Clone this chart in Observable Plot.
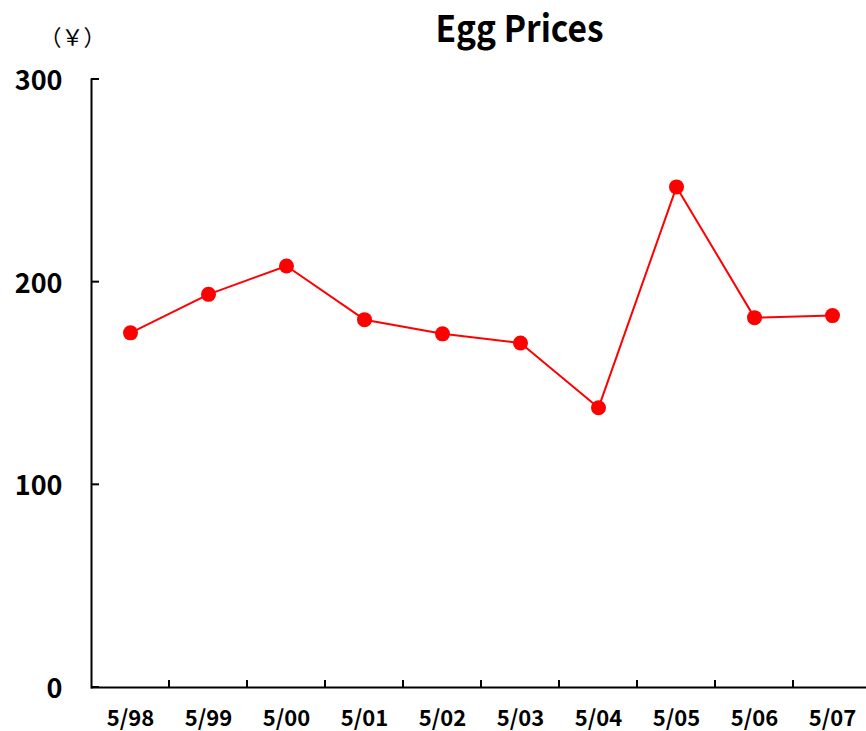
<!DOCTYPE html>
<html>
<head>
<meta charset="utf-8">
<script src="https://cdn.jsdelivr.net/npm/d3@7"></script>
<script src="https://cdn.jsdelivr.net/npm/@observablehq/plot@0.6"></script>
<style>
  html, body { margin: 0; padding: 0; background: #fff; }
  svg { display: block; }
</style>
</head>
<body>
<div id="chart"></div>
<script>
const categories = ["5/98","5/99","5/00","5/01","5/02","5/03","5/04","5/05","5/06","5/07"];
const prices = [175, 194, 208, 181.5, 174.5, 170, 138, 247, 182.5, 183.5];
const yTicks = [0, 100, 200, 300];
const title = "Egg Prices";
const unitLabel = "（￥）";

const data = categories.map((c, i) => ({cat: c, price: prices[i]}));
const font = "'Noto Sans CJK JP', 'Noto Sans', sans-serif";

// custom x ticks at band boundaries
function xBoundaryTicks(index, scales, values, dims) {
  const g = d3.create("svg:g");
  const y0 = scales.y(0);
  for (const c of categories.slice(1)) {
    const x = scales.x(c);
    g.append("line").attr("x1", x).attr("x2", x).attr("y1", y0).attr("y2", y0 - 7)
      .attr("stroke", "#000").attr("stroke-width", 2);
  }
  return g.node();
}
function yInwardTicks(index, scales, values, dims) {
  const g = d3.create("svg:g");
  const x0 = dims.marginLeft;
  for (const t of yTicks) {
    const y = scales.y(t);
    g.append("line").attr("x1", x0).attr("x2", x0 + 8).attr("y1", y).attr("y2", y)
      .attr("stroke", "#000").attr("stroke-width", 2);
  }
  return g.node();
}

const chart = Plot.plot({
  width: 866,
  height: 731,
  marginLeft: 91,
  marginRight: 0,
  marginTop: 79,
  marginBottom: 44,
  style: {fontFamily: font, background: "#fff"},
  x: {type: "band", domain: categories, range: [91, 871], padding: 0, axis: null},
  y: {domain: [0, 300], axis: null},
  marks: [
    Plot.frame({anchor: "left", stroke: "#000", strokeWidth: 2}),
    Plot.ruleY([0], {stroke: "#000", strokeWidth: 2}),
    yInwardTicks,
    xBoundaryTicks,
    Plot.text(yTicks, {x: () => categories[0], y: d => d, text: d => String(d), dx: -68, textAnchor: "end",
      fontSize: 27, fontWeight: 600, fill: "#000", dy: 2}),
    Plot.text(categories, {x: d => d, y: 0, text: d => d, dy: 31, fontSize: 22, fontWeight: 600, fill: "#000"}),
    Plot.line(data, {x: "cat", y: "price", stroke: "#ff0000", strokeWidth: 2}),
    Plot.dot(data, {x: "cat", y: "price", r: 7.5, fill: "#ff0000", stroke: "none"}),
    Plot.text([title], {frameAnchor: "top", text: d => d, dy: -64, dx: 40.5, fontSize: 37, fontWeight: "bold",
      fill: "#000"}),
    Plot.text([unitLabel], {frameAnchor: "top-left", text: d => d, dx: -19, dy: -50, fontSize: 22, fill: "#000", textAnchor: "middle"})
  ]
});
d3.select(chart).selectAll("text").filter(function () { return this.textContent === title; })
  .attr("textLength", 168).attr("lengthAdjust", "spacingAndGlyphs");
document.getElementById("chart").appendChild(chart);
</script>
</body>
</html>
